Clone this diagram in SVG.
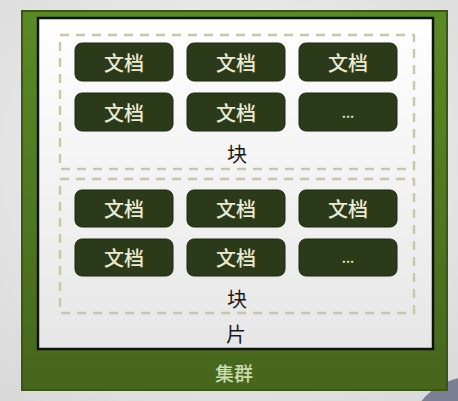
<svg xmlns="http://www.w3.org/2000/svg" width="458" height="401" viewBox="0 0 458 401">
<defs>
<radialGradient id="bg" cx="0.5" cy="0.4" r="0.75">
<stop offset="0" stop-color="#f6f6f6"/>
<stop offset="1" stop-color="#d9d9d9"/>
</radialGradient>
<linearGradient id="green" x1="0" y1="0" x2="0" y2="1">
<stop offset="0" stop-color="#5a8a24"/>
<stop offset="1" stop-color="#46661c"/>
</linearGradient>
<linearGradient id="inner" x1="0" y1="0" x2="0" y2="1">
<stop offset="0" stop-color="#ffffff"/>
<stop offset="1" stop-color="#e6e6e6"/>
</linearGradient>
<style>
.doc rect{fill:#2b3a18;stroke:#1c260f;stroke-width:1}
.doc text{fill:#ece9d2;font-family:"Noto Sans CJK SC","Liberation Sans",sans-serif;font-size:20px;font-weight:500;text-anchor:middle;dominant-baseline:central}
.blk{fill:none;stroke:#c6c8a8;stroke-width:2.4;stroke-dasharray:9,7}
.lbl{fill:#1a1a1a;font-family:"Noto Sans CJK SC","Liberation Sans",sans-serif;font-size:20px;text-anchor:middle;dominant-baseline:central}
</style>
</defs>
<rect x="0" y="0" width="458" height="401" fill="url(#bg)"/>
<circle cx="471" cy="440" r="63" fill="#7b7f95"/>
<g id="cluster">
<rect x="22" y="11" width="425" height="379" fill="url(#green)" stroke="#3b5716" stroke-width="2"/>
<text x="234" y="372" style="fill:#c9dcb4;font-family:'Noto Sans CJK SC','Liberation Sans',sans-serif;font-size:19px;font-weight:500;text-anchor:middle;dominant-baseline:central">集群</text>
</g>
<g id="shard">
<rect x="38" y="18" width="395" height="331" fill="url(#inner)" stroke="#111" stroke-width="2.5"/>
<text class="lbl" x="236" y="333">片</text>
</g>
<g id="chunk1">
<rect class="blk" x="60" y="35" width="354" height="134"/>
<text class="lbl" x="237" y="153">块</text>
</g>
<g id="chunk2">
<rect class="blk" x="60" y="179" width="354" height="134"/>
<text class="lbl" x="237" y="298">块</text>
</g>
<g id="d1" class="doc"><rect x="75" y="43" width="98" height="38" rx="7"/><text x="124" y="62">文档</text></g>
<g id="d2" class="doc"><rect x="187" y="43" width="98" height="38" rx="7"/><text x="236" y="62">文档</text></g>
<g id="d3" class="doc"><rect x="299" y="43" width="98" height="38" rx="7"/><text x="348" y="62">文档</text></g>
<g id="d4" class="doc"><rect x="75" y="93" width="98" height="38" rx="7"/><text x="124" y="112">文档</text></g>
<g id="d5" class="doc"><rect x="187" y="93" width="98" height="38" rx="7"/><text x="236" y="112">文档</text></g>
<g id="d6" class="doc"><rect x="299" y="93" width="98" height="38" rx="7"/><text x="348" y="112" style="font-size:14px">...</text></g>
<g id="d7" class="doc"><rect x="75" y="190" width="98" height="37" rx="7"/><text x="124" y="208">文档</text></g>
<g id="d8" class="doc"><rect x="187" y="190" width="98" height="37" rx="7"/><text x="236" y="208">文档</text></g>
<g id="d9" class="doc"><rect x="299" y="190" width="98" height="37" rx="7"/><text x="348" y="208">文档</text></g>
<g id="d10" class="doc"><rect x="75" y="239" width="98" height="37" rx="7"/><text x="124" y="257">文档</text></g>
<g id="d11" class="doc"><rect x="187" y="239" width="98" height="37" rx="7"/><text x="236" y="257">文档</text></g>
<g id="d12" class="doc"><rect x="299" y="239" width="98" height="37" rx="7"/><text x="348" y="257" style="font-size:14px">...</text></g>
<g id="connectors"/>
</svg>
